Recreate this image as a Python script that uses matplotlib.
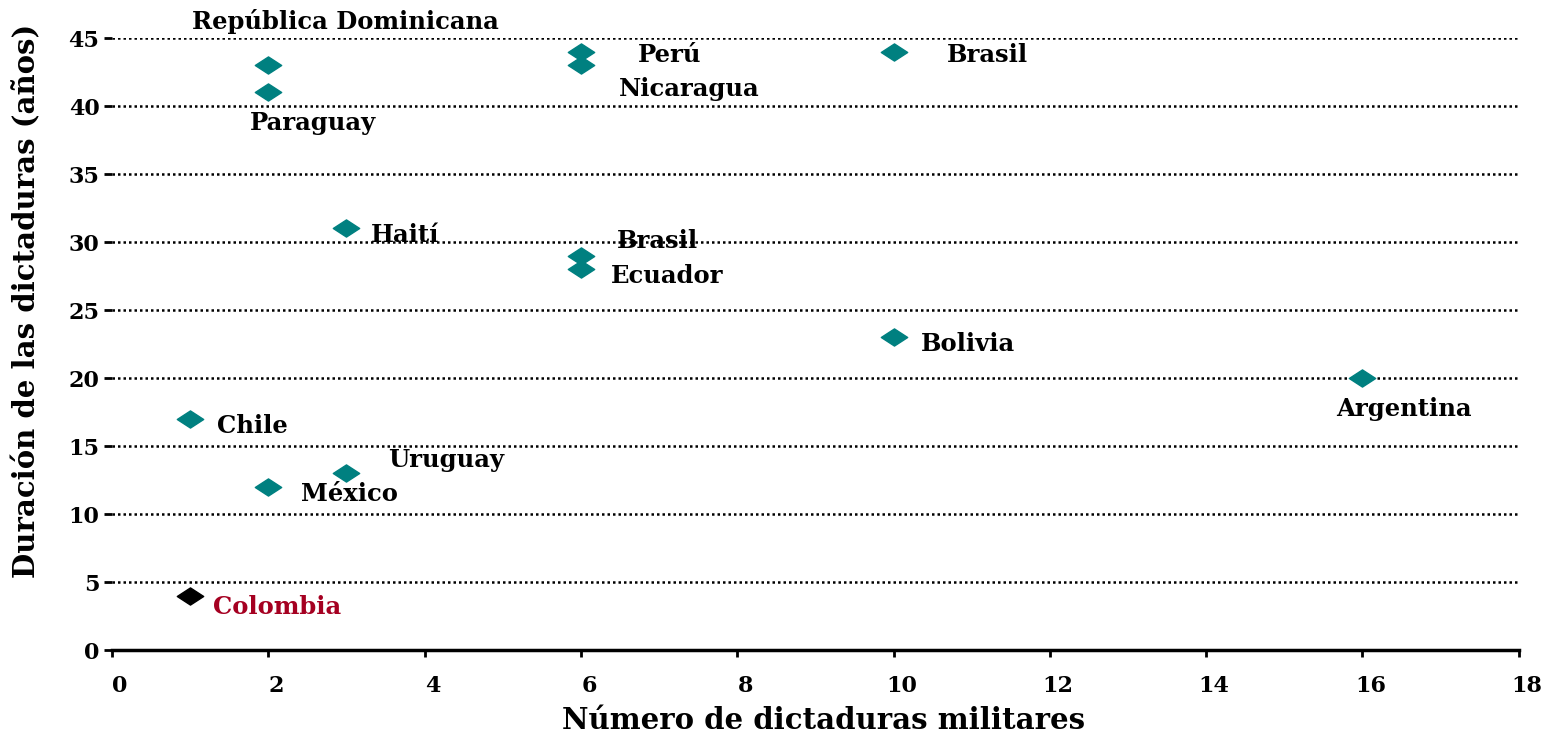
import matplotlib.pyplot as plt
import matplotlib.transforms as mtransforms
from matplotlib.path import Path

# datos: número de dictaduras militares vs duración (años)
paises = ['República Dominicana', 'Paraguay', 'Perú', 'Nicaragua', 'Brasil', 'Haití',
          'Brasil', 'Ecuador', 'Bolivia', 'Argentina', 'Chile', 'Uruguay', 'México', 'Colombia']
num_dictaduras = [2, 2, 6, 6, 10, 3, 6, 6, 10, 16, 1, 3, 2, 1]
duracion = [43, 41, 44, 43, 44, 31, 29, 28, 23, 20, 17, 13, 12, 4]
# posición de cada etiqueta (en unidades de datos)
etiqueta_x = [2.98, 2.57, 7.14, 7.39, 11.2, 3.75, 6.98, 7.1, 10.95, 16.53, 1.79, 4.28, 3.04, 2.11]
etiqueta_y = [46.2, 38.75, 43.75, 41.25, 43.75, 30.5, 30.1, 27.5, 22.5, 17.7, 16.5, 14.0, 11.5, 3.16]

plt.rcParams['font.family'] = ['DejaVu Serif']
plt.rcParams['font.weight'] = 'bold'

rombo = Path([(-1, 0), (0, 0.65), (1, 0), (0, -0.65), (-1, 0)],
             [Path.MOVETO, Path.LINETO, Path.LINETO, Path.LINETO, Path.CLOSEPOLY])

fig = plt.figure(figsize=(15.51, 7.38), dpi=100)
ax = fig.add_axes([0.0722, 0.119, 0.907, 0.8295])

for i, p in enumerate(paises):
    color = '#008080'
    tcolor = 'black'
    if p == 'Colombia':
        color = 'black'
        tcolor = '#A50021'
    ax.plot(num_dictaduras[i], duracion[i], marker=rombo, markersize=19,
            color=color, linestyle='none', clip_on=False, zorder=3)
    ax.text(etiqueta_x[i], etiqueta_y[i], p, ha='center', va='center',
            fontsize=17.5, fontweight='bold', color=tcolor, clip_on=False)

ax.set_xlim(0, 18)
ax.set_ylim(0, 45)
ax.set_xticks(range(0, 19, 2))
ax.set_yticks(range(0, 46, 5))
ax.yaxis.grid(True, linestyle=(0, (1, 1.2)), color='black', linewidth=1.8)
ax.set_axisbelow(True)

for s in ['top', 'right', 'left']:
    ax.spines[s].set_visible(False)
ax.spines['bottom'].set_linewidth(2.5)

ax.tick_params(axis='x', length=5, width=2, labelsize=16, pad=13)
ax.tick_params(axis='y', length=6, width=2, labelsize=16, pad=3)
desplaza = mtransforms.ScaledTranslation(8 / 100, 0, fig.dpi_scale_trans)
for lab in ax.get_xticklabels():
    lab.set_fontweight('bold')
    lab.set_transform(lab.get_transform() + desplaza)
for lab in ax.get_yticklabels():
    lab.set_fontweight('bold')

ax.set_xlabel('Número de dictaduras militares', fontsize=21, fontweight='bold')
ax.set_ylabel('Duración de las dictaduras (años)', fontsize=21, fontweight='bold')
ax.xaxis.set_label_coords(0.5057, -0.0915)
ax.yaxis.set_label_coords(-0.05, 0.57)

plt.savefig('out.png', dpi=100)
plt.close()
